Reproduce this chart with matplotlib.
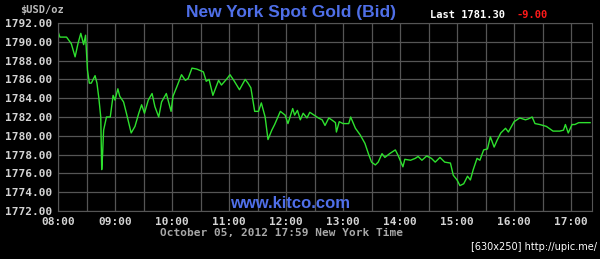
import matplotlib
matplotlib.use("Agg")
import matplotlib.pyplot as plt
import numpy as np

# minutes after 08:00 and bid price
minutes = [0, 2, 9, 14, 18, 21, 24, 27, 29, 31, 33, 35, 39, 41, 43, 45, 46, 47, 48, 51,
           55, 58, 60, 63, 65, 69, 72, 77, 81, 85, 88, 91, 95, 99, 102, 106, 109, 114, 119, 121,
           125, 130, 134, 137, 141, 146, 153, 156, 159, 163, 169, 172, 178, 181, 185, 191, 197, 200, 203, 207,
           211, 214, 218, 221, 225, 228, 234, 239, 242, 247, 249, 252, 255, 258, 262, 265, 271, 274, 278, 281,
           285, 288, 292, 293, 296, 300, 306, 308, 313, 318, 323, 327, 330, 334, 337, 341, 344, 349, 355, 358,
           363, 365, 371, 376, 379, 383, 388, 393, 397, 402, 407, 413, 416, 420, 423, 427, 431, 434, 437, 441,
           444, 448, 452, 455, 459, 462, 466, 471, 474, 480, 483, 486, 492, 495, 499, 502, 507, 514, 521, 528,
           532, 534, 537, 541, 544, 548, 560]
prices = [1791.1, 1790.5, 1790.5, 1789.8, 1788.4, 1789.8, 1790.9, 1789.7, 1790.7, 1787.0, 1785.6, 1785.6, 1786.4, 1785.6, 1784.0, 1782.0, 1776.4, 1778.2, 1780.6, 1782.0,
          1782.0, 1784.3, 1783.8, 1785.0, 1784.2, 1783.6, 1782.4, 1780.3, 1781.0, 1782.4, 1783.3, 1782.4, 1783.8, 1784.5, 1783.1, 1782.0, 1783.6, 1784.5, 1782.6, 1784.2,
          1785.2, 1786.5, 1785.9, 1786.1, 1787.2, 1787.1, 1786.8, 1785.8, 1786.0, 1784.3, 1785.9, 1785.4, 1786.1, 1786.5, 1785.9, 1784.9, 1786.0, 1785.6, 1785.1, 1782.6,
          1782.6, 1783.5, 1782.0, 1779.6, 1780.6, 1781.2, 1782.6, 1782.2, 1781.3, 1782.9, 1782.2, 1782.7, 1781.7, 1782.4, 1781.9, 1782.5, 1782.1, 1781.9, 1781.7, 1781.1,
          1781.9, 1781.7, 1781.4, 1780.4, 1781.5, 1781.3, 1781.3, 1782.0, 1780.8, 1780.1, 1779.2, 1778.0, 1777.2, 1776.9, 1777.2, 1778.1, 1777.7, 1778.1, 1778.5, 1777.9,
          1776.7, 1777.5, 1777.4, 1777.6, 1777.8, 1777.4, 1777.85, 1777.6, 1777.2, 1777.7, 1777.2, 1777.1, 1775.8, 1775.3, 1774.7, 1774.9, 1775.7, 1775.3, 1776.4, 1777.6,
          1777.4, 1778.5, 1778.6, 1779.9, 1778.8, 1779.5, 1780.3, 1780.8, 1780.4, 1781.5, 1781.7, 1781.9, 1781.7, 1781.8, 1782.0, 1781.3, 1781.2, 1781.0, 1780.5, 1780.5,
          1780.6, 1781.2, 1780.3, 1781.2, 1781.2, 1781.4, 1781.4]

hour_labels = ["08:00", "09:00", "10:00", "11:00", "12:00", "13:00", "14:00", "15:00", "16:00", "17:00"]
y_ticks = [1772, 1774, 1776, 1778, 1780, 1782, 1784, 1786, 1788, 1790, 1792]

mono = "DejaVu Sans Mono"
label_col = "#d4d4d4"

fig = plt.figure(figsize=(6, 2.59), dpi=100, facecolor="black")
ax = fig.add_axes([58 / 600, 48 / 259, 534 / 600, 188 / 259], facecolor="black")

ax.plot(minutes, prices, color="#2ee02e", lw=1.0)

# grid every half hour, labels on the hour
xt = np.arange(0, 562, 30)
ax.set_xlim(0, 562)
ax.set_ylim(1772, 1792)
ax.set_xticks(xt)
ax.set_xticklabels([hour_labels[i // 2] if i % 2 == 0 else "" for i in range(len(xt))])
ax.set_yticks(y_ticks)
ax.set_yticklabels([f"{v:.2f}" for v in y_ticks])
ax.grid(True, color="#555555", lw=0.9)
ax.tick_params(length=0, pad=4, colors=label_col, labelsize=8)
for lab in ax.get_xticklabels() + ax.get_yticklabels():
    lab.set_fontfamily(mono)
    lab.set_fontweight("bold")
for s in ax.spines.values():
    s.set_color("#555555")

fig.text(42 / 600, 1 - 10 / 259, "$USD/oz", color="#bbbbbb", fontsize=7.5, family=mono,
         fontweight="bold", ha="center", va="center")
fig.text(291 / 600, 1 - 12 / 259, "New York Spot Gold (Bid)", color="#4f6fe8", fontsize=12.5,
         fontweight="bold", family="Liberation Sans", ha="center", va="center")
fig.text(430 / 600, 1 - 15 / 259, "Last 1781.30", color="white", fontsize=7.5, family=mono,
         fontweight="bold", ha="left", va="center")
fig.text(516 / 600, 1 - 15 / 259, "-9.00", color="#ff1a1a", fontsize=7.5, family=mono,
         fontweight="bold", ha="left", va="center")
fig.text(290 / 600, 1 - 203 / 259, "www.kitco.com", color="#4f6fe8", fontsize=12,
         fontweight="bold", family="Liberation Sans", ha="center", va="center")
fig.text(281 / 600, 1 - 233 / 259, "October 05, 2012 17:59 New York Time", color="#a8a8a8",
         fontsize=8, family=mono, fontweight="bold", ha="center", va="center")
fig.text(597 / 600, 1 - 247 / 259, "[630x250] http://upic.me/", color="white", fontsize=7,
         family="DejaVu Sans", ha="right", va="center")

fig.savefig("out.png", dpi=100, facecolor="black")
